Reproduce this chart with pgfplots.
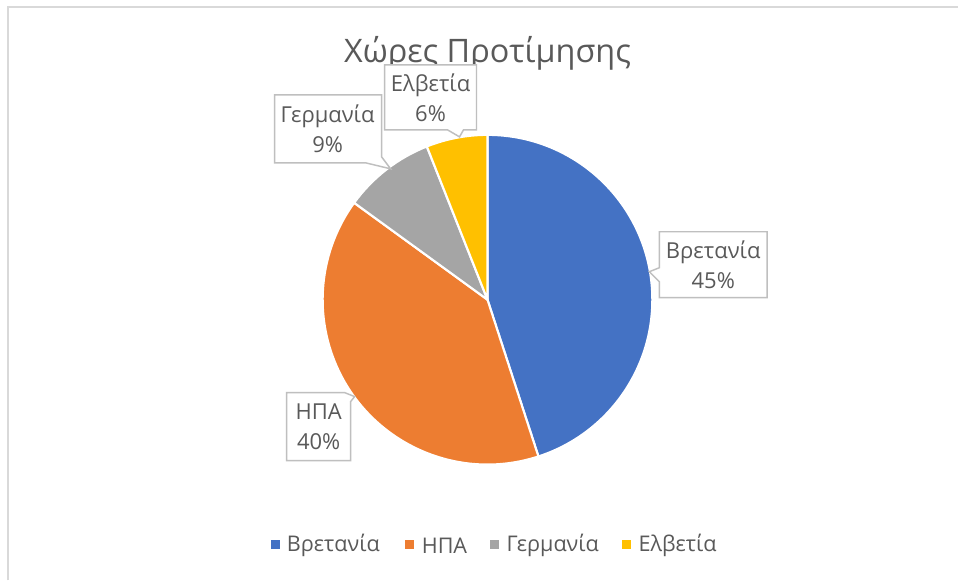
\documentclass[border=0pt]{standalone}
\usepackage{pgfplots}
\pgfplotsset{compat=1.18}
\usepackage{pgfplotstable}
\usepackage{fontspec}
\setmainfont{Open Sans}
\definecolor{cBlue}{HTML}{4472C4}
\definecolor{cOrange}{HTML}{ED7D31}
\definecolor{cGray}{HTML}{A5A5A5}
\definecolor{cYellow}{HTML}{FFC000}
\definecolor{txt}{HTML}{595959}
\definecolor{boxc}{HTML}{BFBFBF}
\definecolor{framec}{HTML}{D9D9D9}

\pgfplotstableread{
value
45
40
9
6
}\piedata

\begin{document}
\begin{tikzpicture}
\pgfplotstablegetelem{0}{value}\of\piedata \edef\vA{\pgfplotsretval}
\pgfplotstablegetelem{1}{value}\of\piedata \edef\vB{\pgfplotsretval}
\pgfplotstablegetelem{2}{value}\of\piedata \edef\vC{\pgfplotsretval}
\pgfplotstablegetelem{3}{value}\of\piedata \edef\vD{\pgfplotsretval}
\pgfmathsetmacro\tot{\vA+\vB+\vC+\vD}
\pgfmathsetmacro\aA{90}
\pgfmathsetmacro\aB{\aA-360*\vA/\tot}
\pgfmathsetmacro\aC{\aB-360*\vB/\tot}
\pgfmathsetmacro\aD{\aC-360*\vC/\tot}
\pgfmathsetmacro\aE{\aD-360*\vD/\tot}
\def\R{123.75pt}
\begin{axis}[scale only axis, width=719.25pt, height=435.75pt,
  xmin=0, xmax=959, ymin=0, ymax=581, y dir=reverse, hide axis, clip=false]
\fill[white] (axis cs:0,0) rectangle (axis cs:959,581);
\draw[framec, line width=1.5pt] (axis cs:8,581) -- (axis cs:8,7) -- (axis cs:959,7);
% title
\node[text=txt, font=\fontsize{24.3}{28}\selectfont] at (axis cs:488,53) {Χώρες Προτίμησης};
% pie
\filldraw[fill=cBlue, draw=white, line width=1.6pt, line join=round] (axis cs:488,300) -- ++(\aA:\R) arc[start angle=\aA, end angle=\aB, radius=\R] -- cycle;
\filldraw[fill=cOrange, draw=white, line width=1.6pt, line join=round] (axis cs:488,300) -- ++(\aB:\R) arc[start angle=\aB, end angle=\aC, radius=\R] -- cycle;
\filldraw[fill=cGray, draw=white, line width=1.6pt, line join=round] (axis cs:488,300) -- ++(\aC:\R) arc[start angle=\aC, end angle=\aD, radius=\R] -- cycle;
\filldraw[fill=cYellow, draw=white, line width=1.6pt, line join=round] (axis cs:488,300) -- ++(\aD:\R) arc[start angle=\aD, end angle=\aE, radius=\R] -- cycle;
% callouts
\filldraw[fill=white, draw=boxc, line width=1.1pt]
  (axis cs:660,232) -- (axis cs:768,232) -- (axis cs:768,298) -- (axis cs:660,298)
  -- (axis cs:660,282) -- (axis cs:650,272) -- (axis cs:660,268) -- cycle;
\filldraw[fill=white, draw=boxc, line width=1.1pt]
  (axis cs:287,393) -- (axis cs:345,393) -- (axis cs:355,397) -- (axis cs:351,402)
  -- (axis cs:351,461) -- (axis cs:287,461) -- cycle;
\filldraw[fill=white, draw=boxc, line width=1.1pt]
  (axis cs:275,95) -- (axis cs:382,95) -- (axis cs:382,157) -- (axis cs:391,169)
  -- (axis cs:366,163) -- (axis cs:275,163) -- cycle;
\filldraw[fill=white, draw=boxc, line width=1.1pt]
  (axis cs:385,65) -- (axis cs:477,65) -- (axis cs:477,130) -- (axis cs:464,130)
  -- (axis cs:460,137) -- (axis cs:448,130) -- (axis cs:385,130) -- cycle;
\begin{scope}[every node/.style={text=txt, font=\fontsize{16.5}{22.5}\selectfont, align=center}]
\node at (axis cs:714,265) {Βρετανία\\45\%};
\node at (axis cs:319,427) {ΗΠΑ\\40\%};
\node at (axis cs:328,129) {Γερμανία\\9\%};
\node at (axis cs:431,98) {Ελβετία\\6\%};
\end{scope}
% legend
\begin{scope}[every node/.style={text=txt, font=\fontsize{16.2}{20}\selectfont, anchor=west, inner sep=0pt}]
\fill[cBlue] (axis cs:271,541) rectangle (axis cs:280,550);
\node at (axis cs:287,546) {Βρετανία};
\fill[cOrange] (axis cs:405,541) rectangle (axis cs:414,550);
\node at (axis cs:422,546) {ΗΠΑ};
\fill[cGray] (axis cs:491,541) rectangle (axis cs:500,550);
\node at (axis cs:507,546) {Γερμανία};
\fill[cYellow] (axis cs:623,541) rectangle (axis cs:632,550);
\node at (axis cs:639,546) {Ελβετία};
\end{scope}
\end{axis}
\end{tikzpicture}
\end{document}
